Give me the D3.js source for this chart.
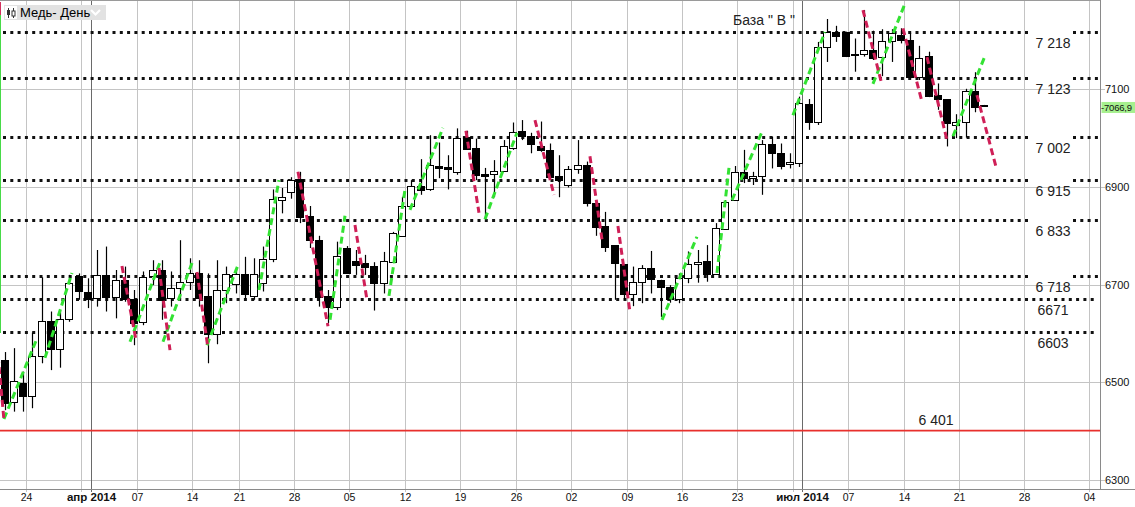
<!DOCTYPE html>
<html><head><meta charset="utf-8">
<script src="https://cdn.jsdelivr.net/npm/d3@7"></script>
<style>body{margin:0;background:#fff;} svg{display:block;font-family:"Liberation Sans",Arial,sans-serif;}</style>
</head><body><svg id="c" width="1135" height="507"></svg>
<script>
// ---------- DATA ----------
const firstIndex = -2; // bar index of the first candle (index 0 = week of 24 Mar)
const opens  = [6546,6459,6499,6473,6554,6626,6568,6630,6718,6684,6672,6720,6674,6710,6670,6623,6718,6730,6672,6693,6705,6723,6677,6598,6690,6701,6721,6677,6703,6752,6873,6889,6916,6841,6791,6677,6654,6775,6748,6744,6738,6704,6747,6800,6862,6902,6895,6943,6941,6931,7002,6979,6927,6926,6933,6979,7015,7004,6984,6976,6922,6905,6936,6945,6868,6820,6781,6742,6680,6705,6735,6710,6695,6670,6713,6742,6748,6721,6813,6873,6931,6918,6922,6989,6969,6947,6950,7070,7034,7186,7217,7217,7172,7172,7180,7167,7199,7211,7201,7126,7168,7088,7080,7026,7034,7096,7068];
const highs  = [6562,6570,6522,6602,6715,6645,6647,6720,6723,6713,6771,6778,6730,6737,6689,6727,6750,6750,6727,6791,6754,6750,6723,6750,6737,6733,6757,6754,6778,6895,6898,6920,6931,6861,6800,6689,6788,6779,6771,6761,6746,6767,6808,6880,6914,6957,7006,6991,6965,7020,7015,6999,6939,6955,6996,7032,7037,7011,7034,6989,6965,6943,6996,6952,6868,6849,6781,6742,6737,6740,6769,6710,6699,6723,6768,6771,6781,6826,6873,6943,6976,6931,6996,7003,6989,6969,7085,7080,7197,7244,7230,7218,7204,7262,7220,7223,7223,7225,7216,7189,7177,7112,7080,7049,7101,7135,7068];
const lows   = [6443,6440,6440,6447,6539,6525,6530,6624,6669,6652,6655,6645,6631,6665,6576,6617,6699,6628,6655,6672,6689,6655,6539,6578,6662,6682,6672,6669,6686,6746,6846,6876,6826,6775,6655,6621,6648,6722,6720,6720,6647,6682,6744,6798,6860,6884,6892,6918,6895,6925,6976,6914,6834,6879,6931,6976,6996,6969,6972,6918,6879,6899,6927,6860,6800,6767,6669,6669,6656,6662,6682,6634,6663,6662,6703,6704,6706,6720,6812,6872,6908,6904,6884,6938,6936,6938,6941,7017,7027,7156,7197,7166,7136,7167,7160,7127,7156,7194,7122,7119,7084,7058,6983,7000,7001,7053,7065];
const closes = [6458,6503,6473,6554,6626,6568,6629,6703,6686,6671,6720,6674,6710,6671,6621,6716,6730,6669,6693,6706,6723,6672,6598,6690,6721,6721,6680,6721,6752,6875,6880,6915,6838,6791,6675,6654,6759,6724,6741,6737,6704,6748,6806,6862,6902,6894,6945,6938,6936,7000,6977,6925,6922,6933,6984,7012,7004,6987,6976,6921,6914,6937,6944,6868,6819,6778,6744,6680,6705,6735,6712,6695,6670,6713,6742,6746,6721,6817,6870,6930,6918,6923,6987,6970,6943,6952,7071,7034,7186,7217,7210,7169,7170,7180,7165,7199,7215,7200,7126,7165,7086,7080,7032,7033,7096,7064,7066.9];

const priceTicks = [6300, 6500, 6700, 6900, 7100];
const weekTickIdx    = [0, 6, 12, 18, 23, 29, 35, 41, 47, 53, 59, 65, 71, 77, 83, 89, 95, 101, 108, 115];
const weekTickLabels = ["24","","07","14","21","28","05","12","19","26","02","09","16","23","","07","14","21","28","04"];
const monthTickIdx    = [7, 84];
const monthTickLabels = ["апр 2014", "июл 2014"];

const levels      = [7218, 7123, 7002, 6915, 6833, 6718, 6671, 6603];
const levelLabels = ["7 218", "7 123", "7 002", "6 915", "6 833", "6 718", "6671", "6603"];
const levelGapped = [true, true, true, true, true, true, false, false];
const supportLevel = 6401, supportLabel = "6 401";

// trend lines: [index1, price1, index2, price2]
const greenLines = [
  [-2.19,6425, 1.28,6585], [2.25,6550, 5.17,6724], [11.45,6583, 14.7,6746], [15.02,6583, 18.27,6750],
  [19.78,6576, 23.14,6740], [25.41,6689, 27.57,6914], [33.1,6628, 34.72,6841], [39.48,6677, 41.21,6894],
  [41.75,6853, 45.32,7021], [49.87,6834, 53.33,7011], [69.03,6628, 72.81,6798], [74.98,6724, 76.28,6939],
  [76.6,6873, 79.85,7013], [83.2,7047, 86.66,7217], [91.86,7111, 95.32,7275], [100.52,7004, 103.98,7168]
];
const redLines = [
  [-2.94,6576, -2.19,6423], [10.58,6738, 12.1,6587], [14.59,6734, 15.78,6566], [18.7,6726, 19.89,6570],
  [29.63,6931, 32.88,6615], [35.8,6822, 37.1,6669], [47.81,7015, 49.22,6847], [55.28,7037, 57.34,6884],
  [61.23,6963, 62.53,6793], [64.26,6820, 65.56,6644], [90.78,7262, 92.84,7109], [95.11,7225, 97.17,7074],
  [97.71,7166, 99.87,6996], [103.12,7088, 105.18,6941]
];
const edgeGreen = [-2.6, 6601, -2.6, 7252];
const edgeRed   = [-2.6, 7252, -2.6, 7279];

const lastPrice = 7066.9, lastPriceLabel = "-7066,9";
const titleText = "Медь- День";
const noteText = 'База " В "';

// ---------- LAYOUT ----------
const plotRight = 1100, plotBottom = 489;
const x = d3.scaleLinear().domain([0, 101]).range([24.2, 957.4]);
const y = d3.scaleLinear().domain([6300, 7100]).range([480, 89.3]);
const gx = i => Math.round(x(i) + 1.8) + 0.5;

const svg = d3.select("#c");
svg.append("rect").attr("width",1135).attr("height",507).attr("fill","#fff");

const candles = opens.map((o, k) => ({i: firstIndex + k, o, h: highs[k], l: lows[k], c: closes[k]}));

// horizontal price grid
svg.append("g").selectAll("line").data(priceTicks).join("line")
  .attr("x1", 0).attr("x2", plotRight + 5)
  .attr("y1", d => Math.round(y(d)) + 0.5).attr("y2", d => Math.round(y(d)) + 0.5)
  .attr("stroke", "#c4c4c4");

// vertical weekly grid
svg.append("g").selectAll("line").data(weekTickIdx).join("line")
  .attr("x1", d => gx(d)).attr("x2", d => gx(d))
  .attr("y1", 1).attr("y2", plotBottom + 3)
  .attr("stroke", "#c4c4c4");
svg.append("g").selectAll("line").data(monthTickIdx).join("line")
  .attr("x1", d => gx(d)).attr("x2", d => gx(d))
  .attr("y1", 1).attr("y2", plotBottom + 3)
  .attr("stroke", "#6a6a6a");

// frame
svg.append("line").attr("x1",0).attr("x2",plotRight).attr("y1",0.5).attr("y2",0.5).attr("stroke","#9a9a9a");
svg.append("line").attr("x1",plotRight+0.5).attr("x2",plotRight+0.5).attr("y1",0).attr("y2",plotBottom).attr("stroke","#8a8a8a");
svg.append("line").attr("x1",0).attr("x2",1135).attr("y1",plotBottom+0.5).attr("y2",plotBottom+0.5).attr("stroke","#8a8a8a");

// edge lines
svg.append("line").attr("x1", x(edgeGreen[0])).attr("x2", x(edgeGreen[2]))
  .attr("y1", y(edgeGreen[1])).attr("y2", y(edgeGreen[3])).attr("stroke","#39d839").attr("stroke-width",1.5);
svg.append("line").attr("x1", x(edgeRed[0])).attr("x2", x(edgeRed[2]))
  .attr("y1", y(edgeRed[1])).attr("y2", y(edgeRed[3])).attr("stroke","#d02050").attr("stroke-width",1.5);

// dotted level lines
const lv = svg.append("g");
levels.forEach((p, k) => {
  const yy = Math.round(y(p)) + 0.5;
  const segs = levelGapped[k] ? [[3, 1030], [1073, 1098]] : [[3, 1098]];
  segs.forEach(s => {
    lv.append("line").attr("x1", s[0]).attr("x2", s[1]).attr("y1", yy).attr("y2", yy)
      .attr("stroke", "#111").attr("stroke-width", 3).attr("stroke-dasharray", "3,4.3");
  });
  lv.append("text").attr("x", 1053).attr("y", yy + 15).attr("text-anchor", "middle")
    .attr("font-size", 14).attr("fill", "#222").text(levelLabels[k]);
});

// support line
svg.append("line").attr("x1", 0).attr("x2", plotRight)
  .attr("y1", y(supportLevel)).attr("y2", y(supportLevel))
  .attr("stroke", "#e8302c").attr("stroke-width", 1.6);
svg.append("text").attr("x", 936).attr("y", y(supportLevel) - 6).attr("text-anchor","middle")
  .attr("font-size", 14).attr("fill","#222").text(supportLabel);

// candles
const cg = svg.append("g");
candles.forEach(d => {
  const cx = Math.round(x(d.i));
  cg.append("line").attr("x1", cx - 0.5).attr("x2", cx - 0.5)
    .attr("y1", y(d.h)).attr("y2", y(d.l)).attr("stroke", "#000").attr("stroke-width", 1.2);
  const top = Math.round(y(Math.max(d.o, d.c))) + 0.5;
  const bot = Math.round(y(Math.min(d.o, d.c))) + 0.5;
  const up = d.c >= d.o;
  cg.append("rect").attr("x", cx - 4.5).attr("y", top)
    .attr("width", 7).attr("height", Math.max(1, bot - top))
    .attr("fill", up ? "#fff" : "#000").attr("stroke", "#000").attr("stroke-width", 1);
});

// trend lines
const tg = svg.append("g");
tg.selectAll("line.g").data(greenLines).join("line").attr("class","g")
  .attr("x1", d => x(d[0])).attr("y1", d => y(d[1])).attr("x2", d => x(d[2])).attr("y2", d => y(d[3]))
  .attr("stroke", "#33e233").attr("stroke-width", 3).attr("stroke-dasharray", "7,4");
tg.selectAll("line.r").data(redLines).join("line").attr("class","r")
  .attr("x1", d => x(d[0])).attr("y1", d => y(d[1])).attr("x2", d => x(d[2])).attr("y2", d => y(d[3]))
  .attr("stroke", "#cf1f57").attr("stroke-width", 3).attr("stroke-dasharray", "7,4");

// right price axis
const ra = svg.append("g");
ra.selectAll("text").data(priceTicks).join("text")
  .attr("x", plotRight + 5).attr("y", d => y(d) + 4)
  .attr("font-size", 11).attr("fill", "#111").text(d => d);

// last price label
svg.append("rect").attr("x", plotRight + 1.5).attr("y", y(lastPrice) - 3.5).attr("width", 34).attr("height", 11)
  .attr("fill", "#a6f08e");
svg.append("text").attr("x", plotRight + 1).attr("y", y(lastPrice) + 6)
  .attr("font-size", 9.5).attr("letter-spacing", -0.2).attr("fill", "#111").text(lastPriceLabel);

// bottom axis labels
svg.append("g").selectAll("text").data(weekTickIdx).join("text")
  .attr("x", d => gx(d)).attr("y", 501).attr("text-anchor", "middle")
  .attr("font-size", 10.5).attr("fill", "#111").text((d, k) => weekTickLabels[k]);
svg.append("g").selectAll("text").data(monthTickIdx).join("text")
  .attr("x", d => gx(d)).attr("y", 501).attr("text-anchor", "middle")
  .attr("font-size", 11.5).attr("font-weight", "bold").attr("fill", "#111").text((d, k) => monthTickLabels[k]);

// note text
svg.append("text").attr("x", 733).attr("y", 25).attr("font-size", 14).attr("fill", "#222").text(noteText);

// title box
const tb = svg.append("g");
tb.append("rect").attr("x", 4).attr("y", 5).attr("width", 102).attr("height", 15).attr("fill", "#e2e2e2");
tb.append("rect").attr("x", 5).attr("y", 6).attr("width", 12).attr("height", 13).attr("fill", "#fff");
tb.append("line").attr("x1",8.5).attr("x2",8.5).attr("y1",8).attr("y2",18).attr("stroke","#333");
tb.append("rect").attr("x",7).attr("y",10).attr("width",3).attr("height",5).attr("fill","#333");
tb.append("line").attr("x1",13.5).attr("x2",13.5).attr("y1",8).attr("y2",18).attr("stroke","#333");
tb.append("rect").attr("x",12).attr("y",11).attr("width",3).attr("height",5).attr("fill","#fff").attr("stroke","#333");
tb.append("text").attr("x", 20).attr("y", 17).attr("font-size", 13).attr("fill", "#000").text(titleText);
tb.append("polyline").attr("points", "91,10 95.5,14.5 100,10").attr("fill","none").attr("stroke","#fff").attr("stroke-width",2.2);
</script></body></html>
